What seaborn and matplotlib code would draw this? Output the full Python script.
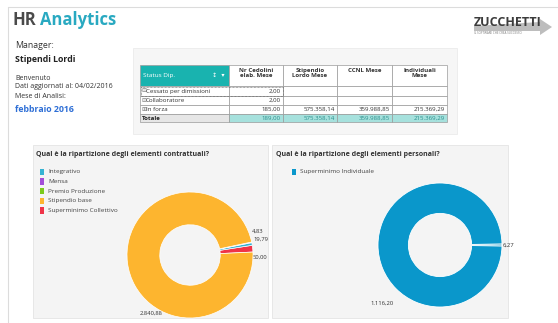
import matplotlib
matplotlib.use("Agg")
import matplotlib.pyplot as plt
from matplotlib.patches import Rectangle, Polygon
import seaborn as sns

sns.set_theme(style="white")
plt.rcParams["font.family"] = ["Open Sans", "DejaVu Sans"]

# ---- data -------------------------------------------------------------
status_rows = ["Cessato per dimissioni", "Collaboratore", "In forza"]
row_icons = ["⊟", "⊟", "⊞"]
cedolini = [2.00, 2.00, 185.00]
stipendio_lordo = [None, None, 575358.14]
ccnl = [None, None, 359988.85]
individuali = [None, None, 215369.29]
col_headers = ["Nr Cedolini\nelab. Mese", "Stipendio\nLordo Mese", "CCNL Mese", "Individuali\nMese"]

contr_labels = ["Integrativo", "Mensa", "Premio Produzione", "Stipendio base", "Superminimo Collettivo"]
contr_colors = ["#35B3D3", "#A24ED8", "#7CCB1C", "#FDB52F", "#EF3448"]
# drawing order around the ring (Premio Produzione has no amount)
contr_order = ["Superminimo Collettivo", "Integrativo", "Mensa", "Stipendio base"]
contr_values = [50.00, 19.79, 4.83, 2840.88]

pers_labels = ["Superminimo Individuale"]
pers_values = [6.27, 1116.20]
pers_color = "#0A97CB"

W, H = 558, 323


def it_num(v):
    s = f"{v:,.2f}"
    return s.replace(",", "X").replace(".", ",").replace("X", ".")


fig = plt.figure(figsize=(W / 100, H / 100), dpi=100)
fig.patch.set_facecolor("white")
bg = fig.add_axes([0, 0, 1, 1])
bg.set_xlim(0, W)
bg.set_ylim(H, 0)
bg.axis("off")

# page frame
bg.plot([8, W], [7, 7], color="#DCDCDC", lw=0.8)
bg.plot([8, 8], [7, H], color="#DCDCDC", lw=0.8)

# ---- header -----------------------------------------------------------
bg.text(12, 20, "HR", fontsize=12, fontweight="bold", color="#4A4A4A", va="center")
bg.text(40, 20, "Analytics", fontsize=12, fontweight="bold", color="#29A9C1", va="center")
bg.text(15, 45, "Manager:", fontsize=6.3, color="#333333", va="center")
bg.text(15, 60, "Stipendi Lordi", fontsize=6.3, fontweight="bold", color="#222222", va="center")
bg.text(15, 79, "Benvenuto", fontsize=5, color="#333333", va="center")
bg.text(15, 87, "Dati aggiornati al: 04/02/2016", fontsize=5, color="#333333", va="center")
bg.text(15, 96, "Mese di Analisi:", fontsize=5, color="#333333", va="center")
bg.text(15, 109, "febbraio 2016", fontsize=6.3, fontweight="bold", color="#2E6FD6", va="center")

# logo
bg.add_patch(Polygon([[474, 26], [540, 22], [540, 19], [552, 27], [540, 35], [540, 31], [474, 31]],
                     closed=True, color="#BDBDBD", lw=0))
bg.text(474, 22, "ZUCCHETTI", fontsize=9, fontweight="bold", color="#3C3C3C", va="center")
bg.text(474, 33, "IL SOFTWARE CHE CREA SUCCESSO", fontsize=2.2, color="#777777", va="center")

# ---- table ------------------------------------------------------------
bg.add_patch(Rectangle((133, 48), 324, 86, facecolor="#F6F6F6", edgecolor="#EBEBEB", lw=0.6))
col_x = [140, 229, 283, 337, 392, 447]
row_y = [65, 86, 96, 105, 114, 122]
grid = "#9A9A9A"
# header
bg.add_patch(Rectangle((col_x[0], row_y[0]), col_x[1] - col_x[0], row_y[1] - row_y[0],
                       facecolor="#19B3AF", edgecolor=grid, lw=0.5))
bg.text(col_x[0] + 3, (row_y[0] + row_y[1]) / 2, "Status Dip.", fontsize=4.6, color="white", va="center")
bg.text(col_x[1] - 4, (row_y[0] + row_y[1]) / 2, "↕  ▾", fontsize=4.6, color="white",
        va="center", ha="right", family=["DejaVu Sans"])
for j, h in enumerate(col_headers):
    x0, x1 = col_x[j + 1], col_x[j + 2]
    bg.add_patch(Rectangle((x0, row_y[0]), x1 - x0, row_y[1] - row_y[0],
                           facecolor="white", edgecolor=grid, lw=0.5))
    bg.text((x0 + x1) / 2, row_y[0] + 3, h, fontsize=4.4, fontweight="bold", color="#333333",
            va="top", ha="center", linespacing=1.1)

num_cols = [cedolini, stipendio_lordo, ccnl, individuali]
for i, name in enumerate(status_rows):
    y0, y1 = row_y[i + 1], row_y[i + 2]
    yc = (y0 + y1) / 2
    bg.add_patch(Rectangle((col_x[0], y0), col_x[1] - col_x[0], y1 - y0,
                           facecolor="white", edgecolor=grid, lw=0.5))
    bg.text(col_x[0] + 1, yc, row_icons[i], fontsize=4.2, color="#777777", va="center",
            family=["DejaVu Sans"])
    bg.text(col_x[0] + 6, yc, name, fontsize=4.4, color="#333333", va="center")
    for j, col in enumerate(num_cols):
        x0, x1 = col_x[j + 1], col_x[j + 2]
        bg.add_patch(Rectangle((x0, y0), x1 - x0, y1 - y0, facecolor="white", edgecolor=grid, lw=0.5))
        if col[i] is not None:
            bg.text(x1 - 2, yc, it_num(col[i]), fontsize=4.4, color="#333333", va="center", ha="right")

# focus outline on the first row
bg.add_patch(Rectangle((col_x[0] + 0.5, row_y[1] + 0.5), col_x[2] - col_x[0] - 1, row_y[2] - row_y[1] - 1,
                       fill=False, edgecolor="#555555", lw=0.5, ls=(0, (1, 1))))

# totals row
y0, y1 = row_y[4], row_y[5]
yc = (y0 + y1) / 2
bg.add_patch(Rectangle((col_x[0], y0), col_x[1] - col_x[0], y1 - y0,
                       facecolor="#E6E6E6", edgecolor=grid, lw=0.5))
bg.text(col_x[0] + 2, yc, "Totale", fontsize=4.4, fontweight="bold", color="#222222", va="center")
for j, col in enumerate(num_cols):
    x0, x1 = col_x[j + 1], col_x[j + 2]
    bg.add_patch(Rectangle((x0, y0), x1 - x0, y1 - y0, facecolor="#A6E1DD", edgecolor=grid, lw=0.5))
    tot = sum(v for v in col if v is not None)
    bg.text(x1 - 2, yc, it_num(tot), fontsize=4.4, color="#2A8F8B", va="center", ha="right")

# ---- chart panels -----------------------------------------------------
for x0, x1 in [(33, 268), (272, 508)]:
    bg.add_patch(Rectangle((x0, 145), x1 - x0, 173, facecolor="#F4F4F4", edgecolor="#E4E4E4", lw=0.6))
bg.text(36, 155, "Qual è la ripartizione degli elementi contrattuali?", fontsize=5,
        fontweight="bold", color="#333333", va="center")
bg.text(276, 155, "Qual è la ripartizione degli elementi personali?", fontsize=5,
        fontweight="bold", color="#333333", va="center")

# legends
for k, (lab, col) in enumerate(zip(contr_labels, contr_colors)):
    y = 172 + k * 9.6
    bg.add_patch(Rectangle((40, y - 3.2), 3.8, 6.4, facecolor=col, lw=0))
    bg.text(48, y, lab, fontsize=4.6, color="#444444", va="center")
bg.add_patch(Rectangle((292, 169), 4.2, 6.4, facecolor=pers_color, lw=0))
bg.text(300, 172, pers_labels[0], fontsize=4.6, color="#444444", va="center")


def donut_axes(cx, cy, r):
    return fig.add_axes([(cx - r) / W, 1 - (cy + r) / H, 2 * r / W, 2 * r / H])


def finish(a):
    a.set_xlim(-1, 1)
    a.set_ylim(-1, 1)
    a.set_aspect("equal")
    a.axis("off")


# contractual elements
cmap = dict(zip(contr_labels, contr_colors))
axl = donut_axes(190, 255, 63)
axl.pie(contr_values, colors=[cmap[n] for n in contr_order], startangle=2.7, radius=1,
        wedgeprops=dict(width=0.52, edgecolor="white", linewidth=0.5))
finish(axl)
# label positions in pixels, paired with values in ring order
contr_label_pos = [(253, 257), (253, 239), (252, 231), (140, 313)]
for v, (lx, ly) in zip(contr_values, contr_label_pos):
    bg.text(lx, ly, it_num(v), fontsize=4.2, color="#333333", va="center")

# personal elements
axr = donut_axes(440, 245, 62)
axr.pie(pers_values, colors=[pers_color, pers_color], startangle=-1, radius=1,
        wedgeprops=dict(width=0.49, edgecolor="white", linewidth=0.6))
finish(axr)
pers_label_pos = [(503, 245), (370, 303)]
for v, (lx, ly) in zip(pers_values, pers_label_pos):
    bg.text(lx, ly, it_num(v), fontsize=4.2, color="#333333", va="center")

fig.savefig("out.png", dpi=100, facecolor="white")
